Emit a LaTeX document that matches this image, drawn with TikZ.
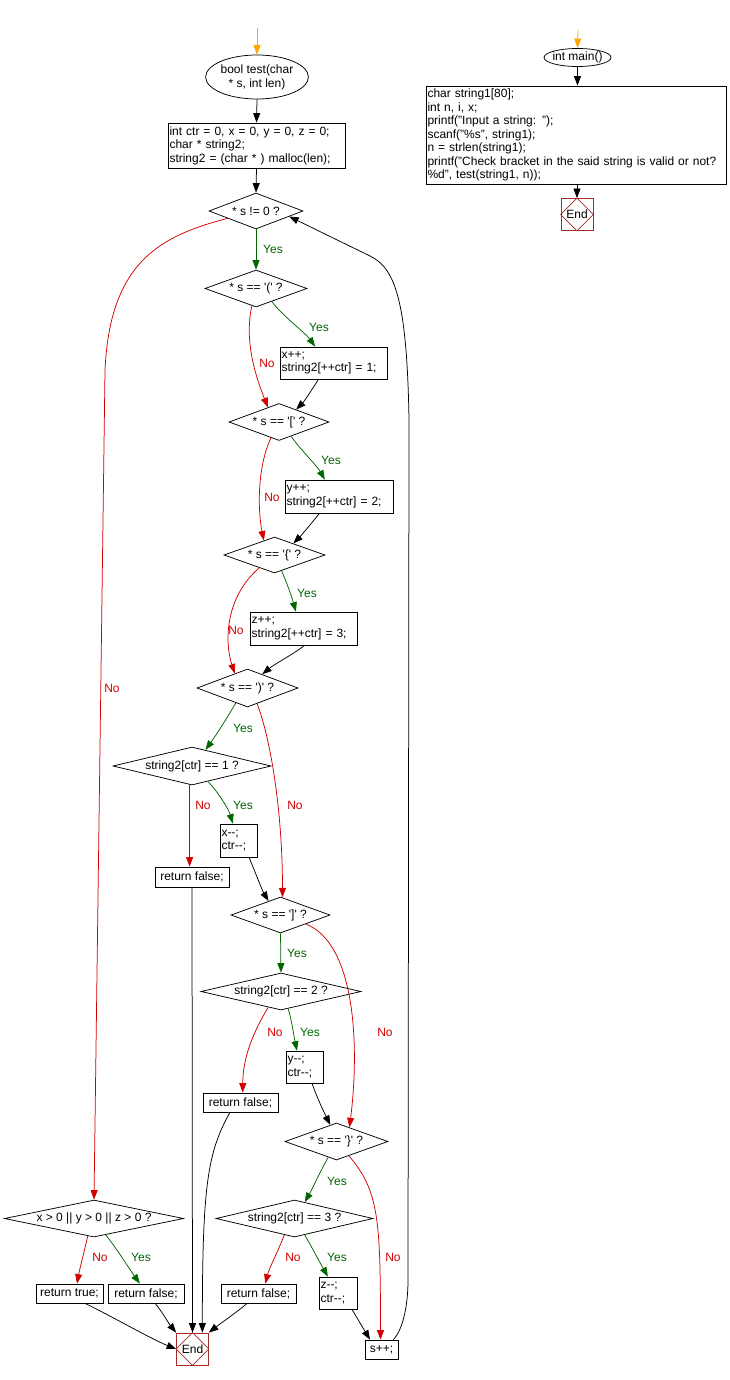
\documentclass[tikz,border=0pt]{standalone}
\usepackage{fontspec}
\setmainfont{Liberation Sans}
\usetikzlibrary{shapes.geometric,arrows.meta,calc}
\definecolor{yesc}{RGB}{0,102,0}
\definecolor{noc}{RGB}{210,0,0}
\definecolor{orc}{RGB}{255,165,0}
\definecolor{endc}{RGB}{165,42,42}
\begin{document}
\begin{tikzpicture}[x=1pt,y=-1pt,
  every node/.style={font=\fontsize{12}{13.5}\selectfont},
  arr/.style={line width=0.75pt,-{Triangle[length=9.5pt,width=7pt]}},
  blkarr/.style={arr,black},
  yesarr/.style={arr,yesc},
  noarr/.style={arr,noc},
  orgarr/.style={arr,orc},
  box/.style={draw,rectangle,inner sep=1.5pt,line width=0.75pt,align=left},
  dia/.style={draw,diamond,inner sep=0pt,line width=0.75pt},
  ell/.style={draw,ellipse,inner sep=0pt,line width=0.75pt,align=center},
  endn/.style={draw=endc,rectangle,minimum size=32pt,inner sep=0pt,line width=0.75pt},
  yeslab/.style={text=yesc},
  nolab/.style={text=noc}]
\useasboundingbox (0,0) rectangle (730,1380);

% ---------- test() ----------
\coordinate (s1) at (257,28);
\node[ell,minimum width=98pt,minimum height=44pt,font=\fontsize{12}{14}\selectfont] (f1) at (257,77) {bool test(char\\{}* s, int len)};
\node[box,text width=174pt,minimum height=45pt] (b0) at (256.5,145.5) {int ctr = 0, x = 0, y = 0, z = 0;\\char * string2;\\string2 = (char * ) malloc(len);};
\node[dia,minimum width=94pt,minimum height=36pt,shape aspect=2.6] (d1) at (256,211) {* s != 0 ?};
\node[dia,minimum width=102pt,minimum height=37pt,shape aspect=2.75] (d2) at (256,288.5) {* s == \textquotesingle(\textquotesingle\ ?};
\node[box,text width=104pt,minimum height=32pt] (p1) at (333.5,363) {x++;\\string2[++ctr] = 1;};
\node[dia,minimum width=100pt,minimum height=37pt,shape aspect=2.7] (d3) at (279,422) {* s == \textquotesingle[\textquotesingle\ ?};
\node[box,text width=105pt,minimum height=33pt] (p2) at (339,496.5) {y++;\\string2[++ctr] = 2;};
\node[dia,minimum width=101pt,minimum height=36pt,shape aspect=2.8] (d4) at (274.5,555) {* s == \textquotesingle\{\textquotesingle\ ?};
\node[box,text width=104pt,minimum height=33pt] (p3) at (303.5,628.5) {z++;\\string2[++ctr] = 3;};
\node[dia,minimum width=101pt,minimum height=38pt,shape aspect=2.65] (d5) at (247.5,688) {* s == \textquotesingle)\textquotesingle\ ?};
\node[dia,minimum width=158pt,minimum height=38pt,shape aspect=4.15] (d6) at (192,766) {string2[ctr] == 1 ?};
\node[box,text width=34pt,minimum height=33pt] (p4) at (238.5,840.5) {x-{}-;\\ctr-{}-;};
\node[box,align=center,minimum width=74pt,minimum height=20pt] (r1) at (192,877) {return false;};
\node[dia,minimum width=99pt,minimum height=36pt,shape aspect=2.75] (d7) at (280.5,915) {* s == \textquotesingle]\textquotesingle\ ?};
\node[dia,minimum width=160pt,minimum height=37pt,shape aspect=4.3] (d8) at (281,991.5) {string2[ctr] == 2 ?};
\node[box,text width=34pt,minimum height=32pt] (p5) at (304.5,1067) {y-{}-;\\ctr-{}-;};
\node[box,align=center,minimum width=75pt,minimum height=19pt] (r2) at (240.5,1102.5) {return false;};
\node[dia,minimum width=103pt,minimum height=37pt,shape aspect=2.8] (d9) at (336.5,1141.5) {* s == \textquotesingle\}\textquotesingle\ ?};
\node[dia,minimum width=157pt,minimum height=37pt,shape aspect=4.25] (d10) at (294.5,1218.5) {string2[ctr] == 3 ?};
\node[box,text width=35pt,minimum height=32pt] (p6) at (338,1293) {z-{}-;\\ctr-{}-;};
\node[box,align=center,minimum width=75pt,minimum height=19pt] (r3) at (258.5,1293.5) {return false;};
\node[box,align=center,minimum width=33pt,minimum height=19pt] (sp) at (381.5,1349.5) {s++;};
\node[dia,inner sep=-1pt,minimum width=179pt,minimum height=37pt,shape aspect=4.85] (d11) at (94,1218.5) {x > 0 || y > 0 || z > 0 ?};
\node[box,align=center,minimum width=67pt,minimum height=19pt] (r4) at (69.5,1293.5) {return true;};
\node[box,align=center,minimum width=76pt,minimum height=19pt] (r5) at (146,1293.5) {return false;};
\node[endn] (end1) at (192.5,1349) {End};
\draw[endc,line width=0.6pt] (end1.north) -- (end1.east) -- (end1.south) -- (end1.west) -- cycle;

% ---------- main() ----------
\coordinate (s2) at (578,30);
\node[ell,inner sep=-1.5pt,minimum width=67pt,minimum height=18pt] (m) at (577.5,57.5) {int main()};
\node[box,text width=297pt,minimum height=98pt] (mb) at (576,135) {char string1[80];\\int n, i, x;\\printf("Input a string: ");\\scanf("\%s", string1);\\n = strlen(string1);\\printf("Check bracket in the said string is valid or not?\\\%d", test(string1, n));};
\node[endn] (end2) at (577,214.5) {End};
\draw[endc,line width=0.6pt] (end2.north) -- (end2.east) -- (end2.south) -- (end2.west) -- cycle;

% ---------- connectors: test() ----------
\draw[orgarr] (s1) -- (f1.north);
\draw[blkarr] (f1.south) -- (b0.north);
\draw[blkarr] (b0.south) -- (d1.north);
\draw[yesarr] (d1.south) -- (d2.north);
\draw[yesarr] ($(d2.south)!.31!(d2.east)$) .. controls +(10,14) and +(-10,-14) .. ($(p1.north west)!.33!(p1.north east)$);
\draw[noarr] ($(d2.south)!.08!(d2.west)$) .. controls +(-8,35) and +(-12,-30) .. ($(d3.north)!.22!(d3.west)$);
\draw[blkarr] ($(p1.south west)!.36!(p1.south east)$) .. controls +(-5,8) and +(8,-8) .. ($(d3.north)!.34!(d3.east)$);
\draw[yesarr] ($(d3.south)!.24!(d3.east)$) .. controls +(10,14) and +(-8,-14) .. ($(p2.north west)!.37!(p2.north east)$);
\draw[noarr] ($(d3.south)!.16!(d3.west)$) .. controls +(-14,30) and +(-6,-30) .. ($(d4.north)!.21!(d4.west)$);
\draw[blkarr] ($(p2.south west)!.32!(p2.south east)$) .. controls +(-8,10) and +(8,-8) .. ($(d4.north)!.37!(d4.east)$);
\draw[yesarr] ($(d4.south)!.14!(d4.east)$) .. controls +(6,14) and +(-4,-14) .. ($(p3.north west)!.43!(p3.north east)$);
\draw[noarr] ($(d4.south)!.3!(d4.west)$) .. controls +(-35,30) and +(-10,-30) .. ($(d5.north)!.25!(d5.west)$);
\draw[blkarr] ($(p3.south west)!.51!(p3.south east)$) .. controls +(-10,8) and +(12,-10) .. ($(d5.north)!.29!(d5.east)$);
\draw[yesarr] ($(d5.south)!.23!(d5.west)$) .. controls +(-8,14) and +(10,-14) .. ($(d6.north)!.17!(d6.east)$);
\draw[noarr] ($(d5.south)!.19!(d5.east)$) .. controls +(15,40) and +(0,-80) .. ($(d7.north)!.04!(d7.east)$);
\draw[noarr] ($(d6.south)!.03!(d6.west)$) -- ($(r1.north)+(-2.4,0)$);
\draw[yesarr] ($(d6.south)!.2!(d6.east)$) .. controls +(10,10) and +(-4,-14) .. ($(p4.north west)!.35!(p4.north east)$);
\draw[blkarr] ($(p4.south west)!.78!(p4.south east)$) .. controls +(5,12) and +(-6,-10) .. ($(d7.north)!.24!(d7.west)$);
\draw[blkarr] (r1.south) -- (end1.north);
\draw[blkarr] ($(r2.south west)!.36!(r2.south east)$) .. controls +(-22,40) and +(0,-150) .. ($(end1.north)!.6!(end1.north east)$);
\draw[yesarr] (d7.south) -- (d8.north);
\draw[noarr] ($(d7.south)!.51!(d7.east)$) .. controls +(50,20) and +(10,-80) .. ($(d9.north)!.25!(d9.east)$);
\draw[noarr] ($(d8.south)!.16!(d8.west)$) .. controls +(-15,25) and +(0,-35) .. ($(r2.north west)!.53!(r2.north east)$);
\draw[yesarr] ($(d8.south)!.09!(d8.east)$) .. controls +(4,14) and +(-3,-14) .. ($(p5.north west)!.3!(p5.north east)$);
\draw[blkarr] ($(p5.south west)!.7!(p5.south east)$) .. controls +(4,12) and +(-6,-12) .. ($(d9.north)!.12!(d9.west)$);
\draw[yesarr] ($(d9.south)!.16!(d9.west)$) .. controls +(-8,14) and +(8,-14) .. ($(d10.north)!.13!(d10.east)$);
\draw[noarr] ($(d9.south)!.24!(d9.east)$) .. controls +(30,35) and +(0,-120) .. ($(sp.north west)!.47!(sp.north east)$);
\draw[noarr] ($(d10.south)!.13!(d10.west)$) .. controls +(-6,16) and +(4,-16) .. ($(r3.north west)!.59!(r3.north east)$);
\draw[yesarr] ($(d10.south)!.13!(d10.east)$) .. controls +(8,14) and +(-8,-14) .. ($(p6.north west)!.24!(p6.north east)$);
\draw[blkarr] ($(p6.south west)!.86!(p6.south east)$) .. controls +(6,10) and +(-6,-10) .. ($(sp.north west)!.16!(sp.north east)$);
\draw[blkarr] ($(r3.south west)!.35!(r3.south east)$) .. controls +(-12,10) and +(10,-8) .. (end1.north east);
\draw[blkarr] ($(sp.north west)!.85!(sp.north east)$) .. controls +(8,-8) and +(0,30) .. (408,1280) -- (409,420) .. controls (407,300) and (395,268) .. (370,256) -- ($(d1.south)!.7!(d1.east)$);
\draw[noarr] ($(d1.south)!.6!(d1.west)$) .. controls (160,236) and (110,262) .. (105,370) -- (d11.north);
\draw[noarr] ($(d11.south)!.07!(d11.west)$) .. controls +(-3,14) and +(3,-16) .. ($(r4.north west)!.61!(r4.north east)$);
\draw[yesarr] ($(d11.south)!.13!(d11.east)$) .. controls +(10,12) and +(-10,-14) .. ($(r5.north west)!.42!(r5.north east)$);
\draw[blkarr] ($(r4.south west)!.73!(r4.south east)$) .. controls +(25,12) and +(-25,-10) .. (end1.west);
\draw[blkarr] ($(r5.south west)!.62!(r5.south east)$) .. controls +(8,10) and +(-8,-10) .. (end1.north west);

% ---------- connectors: main() ----------
\draw[orgarr] (s2) -- (m.north);
\draw[blkarr] (m.south) -- (m.south |- mb.north);
\draw[blkarr] (mb.south -| end2.north) -- (end2.north);

% ---------- labels ----------
\node[yeslab] (l1) at (273,249) {Yes};
\node[yeslab] (l2) at (319,327) {Yes};
\node[nolab] (l3) at (267,363) {No};
\node[yeslab] (l4) at (331,460) {Yes};
\node[nolab] (l5) at (272,497) {No};
\node[yeslab] (l6) at (307,593) {Yes};
\node[nolab] (l7) at (236,630) {No};
\node[yeslab] (l8) at (243,728) {Yes};
\node[nolab] (l9) at (295,805) {No};
\node[nolab] (l10) at (203,805) {No};
\node[yeslab] (l11) at (243,805) {Yes};
\node[yeslab] (l12) at (297,953) {Yes};
\node[nolab] (l13) at (385,1032) {No};
\node[nolab] (l14) at (275,1032) {No};
\node[yeslab] (l15) at (310,1032) {Yes};
\node[yeslab] (l16) at (337,1181) {Yes};
\node[nolab] (l17) at (393,1257) {No};
\node[nolab] (l18) at (293,1257) {No};
\node[yeslab] (l19) at (337,1257) {Yes};
\node[nolab] (l20) at (100,1257) {No};
\node[yeslab] (l21) at (141,1257) {Yes};
\node[nolab] (l22) at (112,688) {No};
\end{tikzpicture}
\end{document}
